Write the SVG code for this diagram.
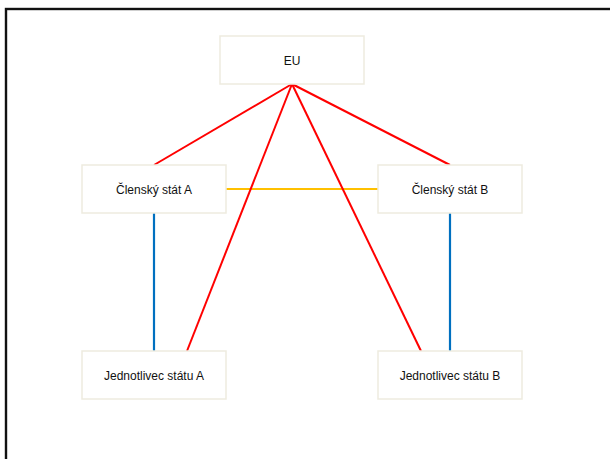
<svg xmlns="http://www.w3.org/2000/svg" width="610" height="459" viewBox="0 0 610 459">
<style>
.box{fill:#ffffff;stroke:#EEEBDF;stroke-width:1.5}
.lbl{font-family:"Liberation Sans",Arial,sans-serif;font-size:12px;fill:#111;text-anchor:middle}
.red{stroke:#FF0000;stroke-width:2;fill:none}
.blue{stroke:#0070C0;stroke-width:2.2;fill:none}
.yel{stroke:#FFC000;stroke-width:2.2;fill:none}
</style>
<rect x="0" y="0" width="610" height="459" fill="#ffffff"/>
<rect x="6" y="9" width="640" height="480" fill="none" stroke="#111" stroke-width="2.4"/>
<g id="connectors">
<line class="yel" x1="226" y1="189" x2="378" y2="189"/>
<line class="blue" x1="154" y1="213" x2="154" y2="351"/>
<line class="blue" x1="450" y1="213" x2="450" y2="351"/>
<line class="red" x1="292" y1="84" x2="154" y2="165"/>
<line class="red" x1="292" y1="84" x2="450" y2="165"/>
<line class="red" x1="292" y1="84" x2="187" y2="351"/>
<line class="red" x1="292" y1="84" x2="421" y2="351"/>
</g>
<g id="eu">
<rect class="box" x="220" y="36" width="144" height="48"/>
<text class="lbl" x="292" y="65">EU</text>
</g>
<g id="stat-a">
<rect class="box" x="82" y="165" width="144" height="48"/>
<text class="lbl" x="154" y="194">Členský stát A</text>
</g>
<g id="stat-b">
<rect class="box" x="378" y="165" width="144" height="48"/>
<text class="lbl" x="450" y="194">Členský stát B</text>
</g>
<g id="jednotlivec-a">
<rect class="box" x="82" y="351" width="144" height="48"/>
<text class="lbl" x="154" y="380">Jednotlivec státu A</text>
</g>
<g id="jednotlivec-b">
<rect class="box" x="378" y="351" width="144" height="48"/>
<text class="lbl" x="450" y="380">Jednotlivec státu B</text>
</g>
</svg>
